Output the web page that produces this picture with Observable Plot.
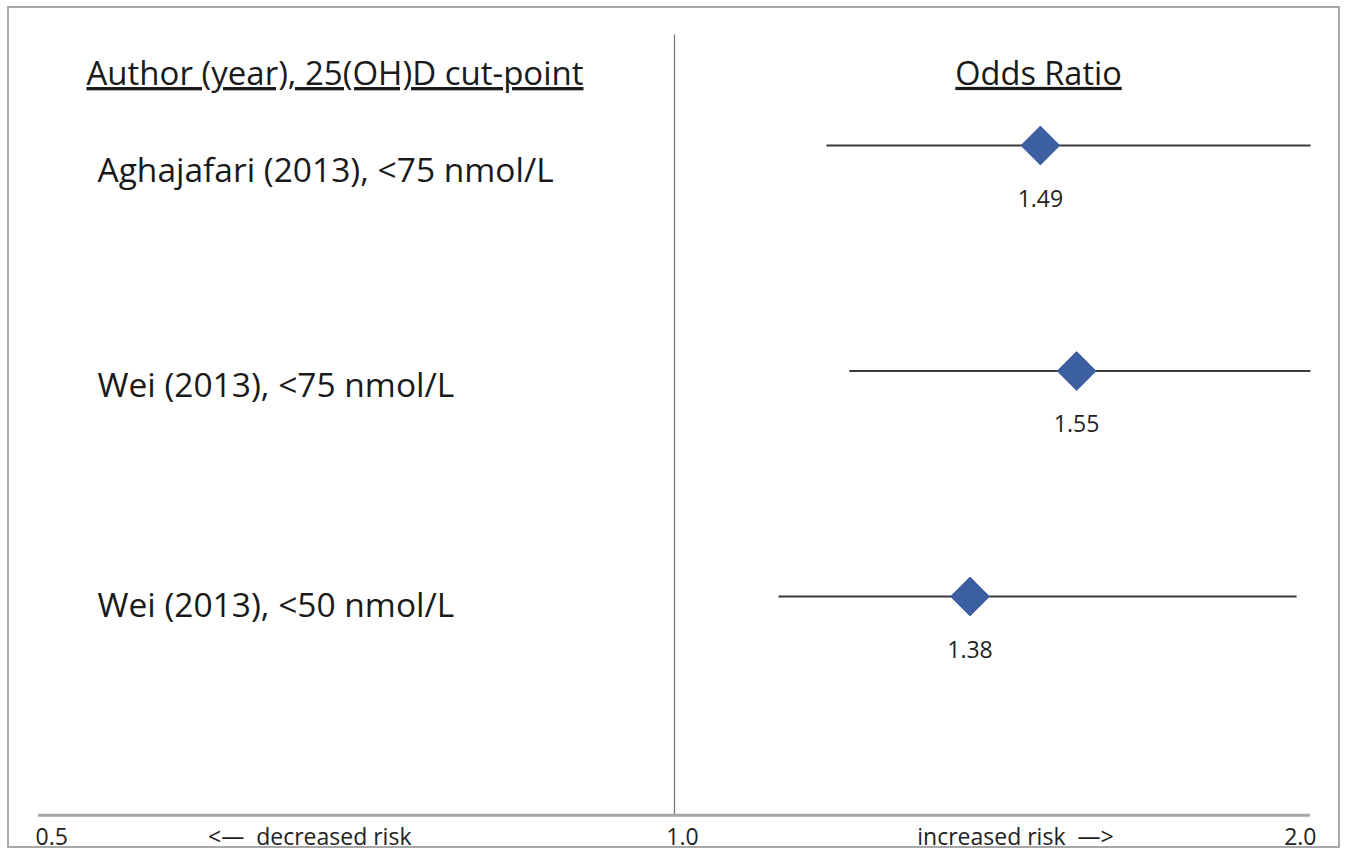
<!DOCTYPE html>
<html><head><meta charset="utf-8">
<script src="https://cdn.jsdelivr.net/npm/d3@7"></script>
<script src="https://cdn.jsdelivr.net/npm/@observablehq/plot@0.6"></script>
<style>
body{margin:0;background:#fff;}
#wrap{position:relative;width:1346px;height:852px;overflow:hidden;}
#frame{position:absolute;left:7px;top:6px;width:1333px;height:842px;border:2px solid #a8a8a8;pointer-events:none;box-sizing:border-box;}
#wrap svg{position:absolute;left:0;top:0;}
g[aria-description="underline"] text{text-decoration:underline;text-decoration-thickness:2px;}
</style></head>
<body><div id="wrap"><div id="frame"></div></div>
<script>
const studies = ["Aghajafari (2013), <75 nmol/L", "Wei (2013), <75 nmol/L", "Wei (2013), <50 nmol/L"];
const oddsRatio = [1.49, 1.55, 1.38];
const ciLow = [1.18, 1.21, 1.12];
const ciHigh = [2.0, 2.0, 1.97];
const headers = ["Author (year), 25(OH)D cut-point", "Odds Ratio"];
const tickValues = [0.5, 1.0, 2.0];
const tickLabels = ["0.5", "1.0", "2.0"];
const riskLabels = ["<—  decreased risk", "increased risk  —>"];
const riskValues = [0.672, 1.45];

const rows = studies.map((s, i) => ({study: s, row: i + 1, or: oddsRatio[i], lo: ciLow[i], hi: ciHigh[i]}));
const ticks = tickValues.map((v, i) => ({v, label: tickLabels[i]}));
const risks = riskLabels.map((t, i) => ({t, v: riskValues[i]}));

const headerY = 0.685, axisY = 3.97, topY = 0.51;
const font = "'Open Sans', Lato, sans-serif";
const labelDy = [26, 15, 10];
const tickAnchors = ["start", "middle", "end"];
const tickDx = [-3, 8, 6];

const plot = Plot.plot({
  width: 1346,
  height: 852,
  marginLeft: 38,
  marginRight: 36,
  marginTop: 0,
  marginBottom: 0,
  style: {fontFamily: font, background: "transparent"},
  x: {type: "log", domain: [0.5, 2], axis: null},
  y: {type: "linear", domain: [1, 3], range: [145, 596], axis: null},
  marks: [
    Plot.ruleX([1], {y1: topY, y2: axisY, stroke: "#7a7a7a", strokeWidth: 1.3}),
    Plot.ruleY([axisY], {stroke: "#a6a6a6", strokeWidth: 3}),
    Plot.link(rows, {x1: "lo", x2: "hi", y1: "row", y2: "row", stroke: "#3a3a3a", strokeWidth: 2.2}),
    Plot.dot(rows, {x: "or", y: "row", symbol: "diamond2", r: 17.5, fill: "#3c5fa2", stroke: "#34569a", strokeWidth: 0.8}),
    Plot.text(rows, {x: "or", y: "row", text: d => d.or.toFixed(2), dy: 54, fontSize: 23, fill: "#222"}),
    ...rows.map((r, i) => Plot.text([r], {x: 0.5, y: "row", text: "study", dx: 59, dy: labelDy[i], textAnchor: "start", fontSize: 33.5, fill: "#1a1a1a"})),
    Plot.text([headers[0]], {x: 0.5, y: headerY, text: d => d, dx: 48, textAnchor: "start", fontSize: 33, fill: "#1a1a1a", ariaDescription: "underline"}),
    Plot.text([headers[1]], {x: 1.487, y: headerY, text: d => d, textAnchor: "middle", fontSize: 32.5, fill: "#1a1a1a", ariaDescription: "underline"}),
    ...ticks.map((t, i) => Plot.text([t], {x: "v", y: axisY, text: "label", textAnchor: tickAnchors[i], dx: tickDx[i], dy: 22, fontSize: 23, fill: "#222"})),
    Plot.text(risks, {x: "v", y: axisY, text: "t", dy: 22, fontSize: 23, fill: "#222"})
  ]
});
document.getElementById("wrap").insertBefore(plot, document.getElementById("frame"));
</script>
</body></html>
